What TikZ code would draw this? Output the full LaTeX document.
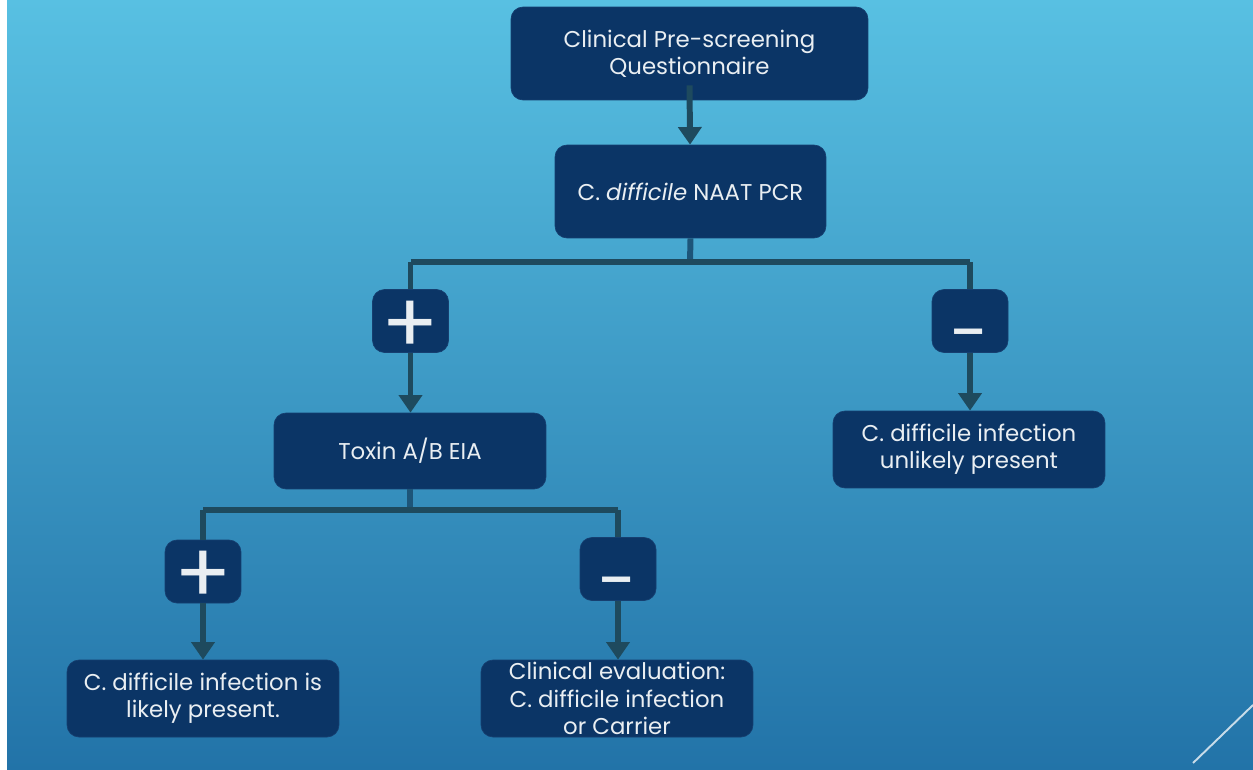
\documentclass[tikz,border=0pt]{standalone}
\usepackage{fontspec}
\setmainfont{Poppins}
\usetikzlibrary{arrows.meta}

\definecolor{boxblue}{HTML}{0B3566}
\definecolor{boxedge}{HTML}{163F70}
\definecolor{linkcol}{HTML}{1E4A5E}
\definecolor{stubcol}{HTML}{1D5579}
\definecolor{bgtop}{HTML}{58C0E2}
\definecolor{bgbottom}{HTML}{2273A8}
\definecolor{txtcol}{HTML}{E9EEF2}

\begin{document}
\begin{tikzpicture}[x=0.02cm, y=-0.02cm,
    stepbox/.style={draw=boxedge, fill=boxblue, rounded corners=0.24cm, text=txtcol,
      align=center, inner sep=0pt, font=\fontsize{13}{15.5}\selectfont},
    signbox/.style={stepbox, minimum width=1.52cm, minimum height=1.26cm},
    plussign/.style={signbox, font=\fontsize{48}{48}\selectfont},
    minussign/.style={signbox, font=\fontsize{40}{40}\selectfont},
    link/.style={draw=linkcol, line width=3.4pt},
    arrow/.style={link, -{Triangle[width=13pt,length=10pt]}}]
  \useasboundingbox (0,0) rectangle (1253,770);
  % background
  \fill[top color=bgtop, bottom color=bgbottom] (7,0) rectangle (1253,770);
  \fill[white] (0,0) rectangle (7,770);
  \draw[white!75!bgbottom, line width=1.1pt] (1193,763) -- (1253,705);

  % boxes
  \node[stepbox, minimum width=7.14cm, minimum height=1.86cm] (quest) at (689.5,53.5)
    {Clinical Pre-screening\\Questionnaire};
  \node[stepbox, minimum width=5.42cm, minimum height=1.86cm] (naat) at (690.5,191.5)
    {C. \textit{difficile} NAAT PCR};
  \node[plussign] (pos1) at (410.5,321) {\raisebox{-0.38em}[0pt][0pt]{+}};
  \node[minussign] (neg1) at (970,321) {\raisebox{-0.52em}[0pt][0pt]{-}};
  \node[stepbox, minimum width=5.44cm, minimum height=1.52cm] (toxin) at (410,451)
    {Toxin A/B EIA};
  \node[stepbox, minimum width=5.44cm, minimum height=1.54cm] (unlikely) at (969,449.5)
    {C. difficile infection\\unlikely present};
  \node[plussign] (pos2) at (203,571.5) {\raisebox{-0.38em}[0pt][0pt]{+}};
  \node[minussign] (neg2) at (618,569) {\raisebox{-0.52em}[0pt][0pt]{-}};
  \node[stepbox, minimum width=5.44cm, minimum height=1.54cm] (likely) at (203,698.5)
    {C. difficile infection is\\likely present.};
  \node[stepbox, minimum width=5.44cm, minimum height=1.54cm] (carrier) at (617,698.5)
    {Clinical evaluation:\\C. difficile infection\\or Carrier};

  % connectors
  \coordinate (split1) at (690,262);
  \coordinate (split2) at (410,510);
  \draw[arrow] ([yshift=0.3cm]quest.south) -- (naat);
  \draw[stubcol, line width=3.4pt] (naat.south) -- (split1);
  \draw[link] (pos1.north |- split1) -- (neg1.north |- split1);
  \draw[link] (pos1.north |- split1) -- (pos1.north);
  \draw[link] (neg1.north |- split1) -- (neg1.north);
  \draw[arrow] (pos1.south) -- (pos1.south |- toxin.north);
  \draw[arrow] (neg1.south) -- (neg1.south |- unlikely.north);

  \draw[stubcol, line width=3.4pt] (toxin.south) -- (split2);
  \draw[link] (pos2.north |- split2) -- (neg2.north |- split2);
  \draw[link] (pos2.north |- split2) -- (pos2.north);
  \draw[link] (neg2.north |- split2) -- (neg2.north);
  \draw[arrow] (pos2.south) -- (pos2.south |- likely.north);
  \draw[arrow] (neg2.south) -- (neg2.south |- carrier.north);
\end{tikzpicture}
\end{document}
